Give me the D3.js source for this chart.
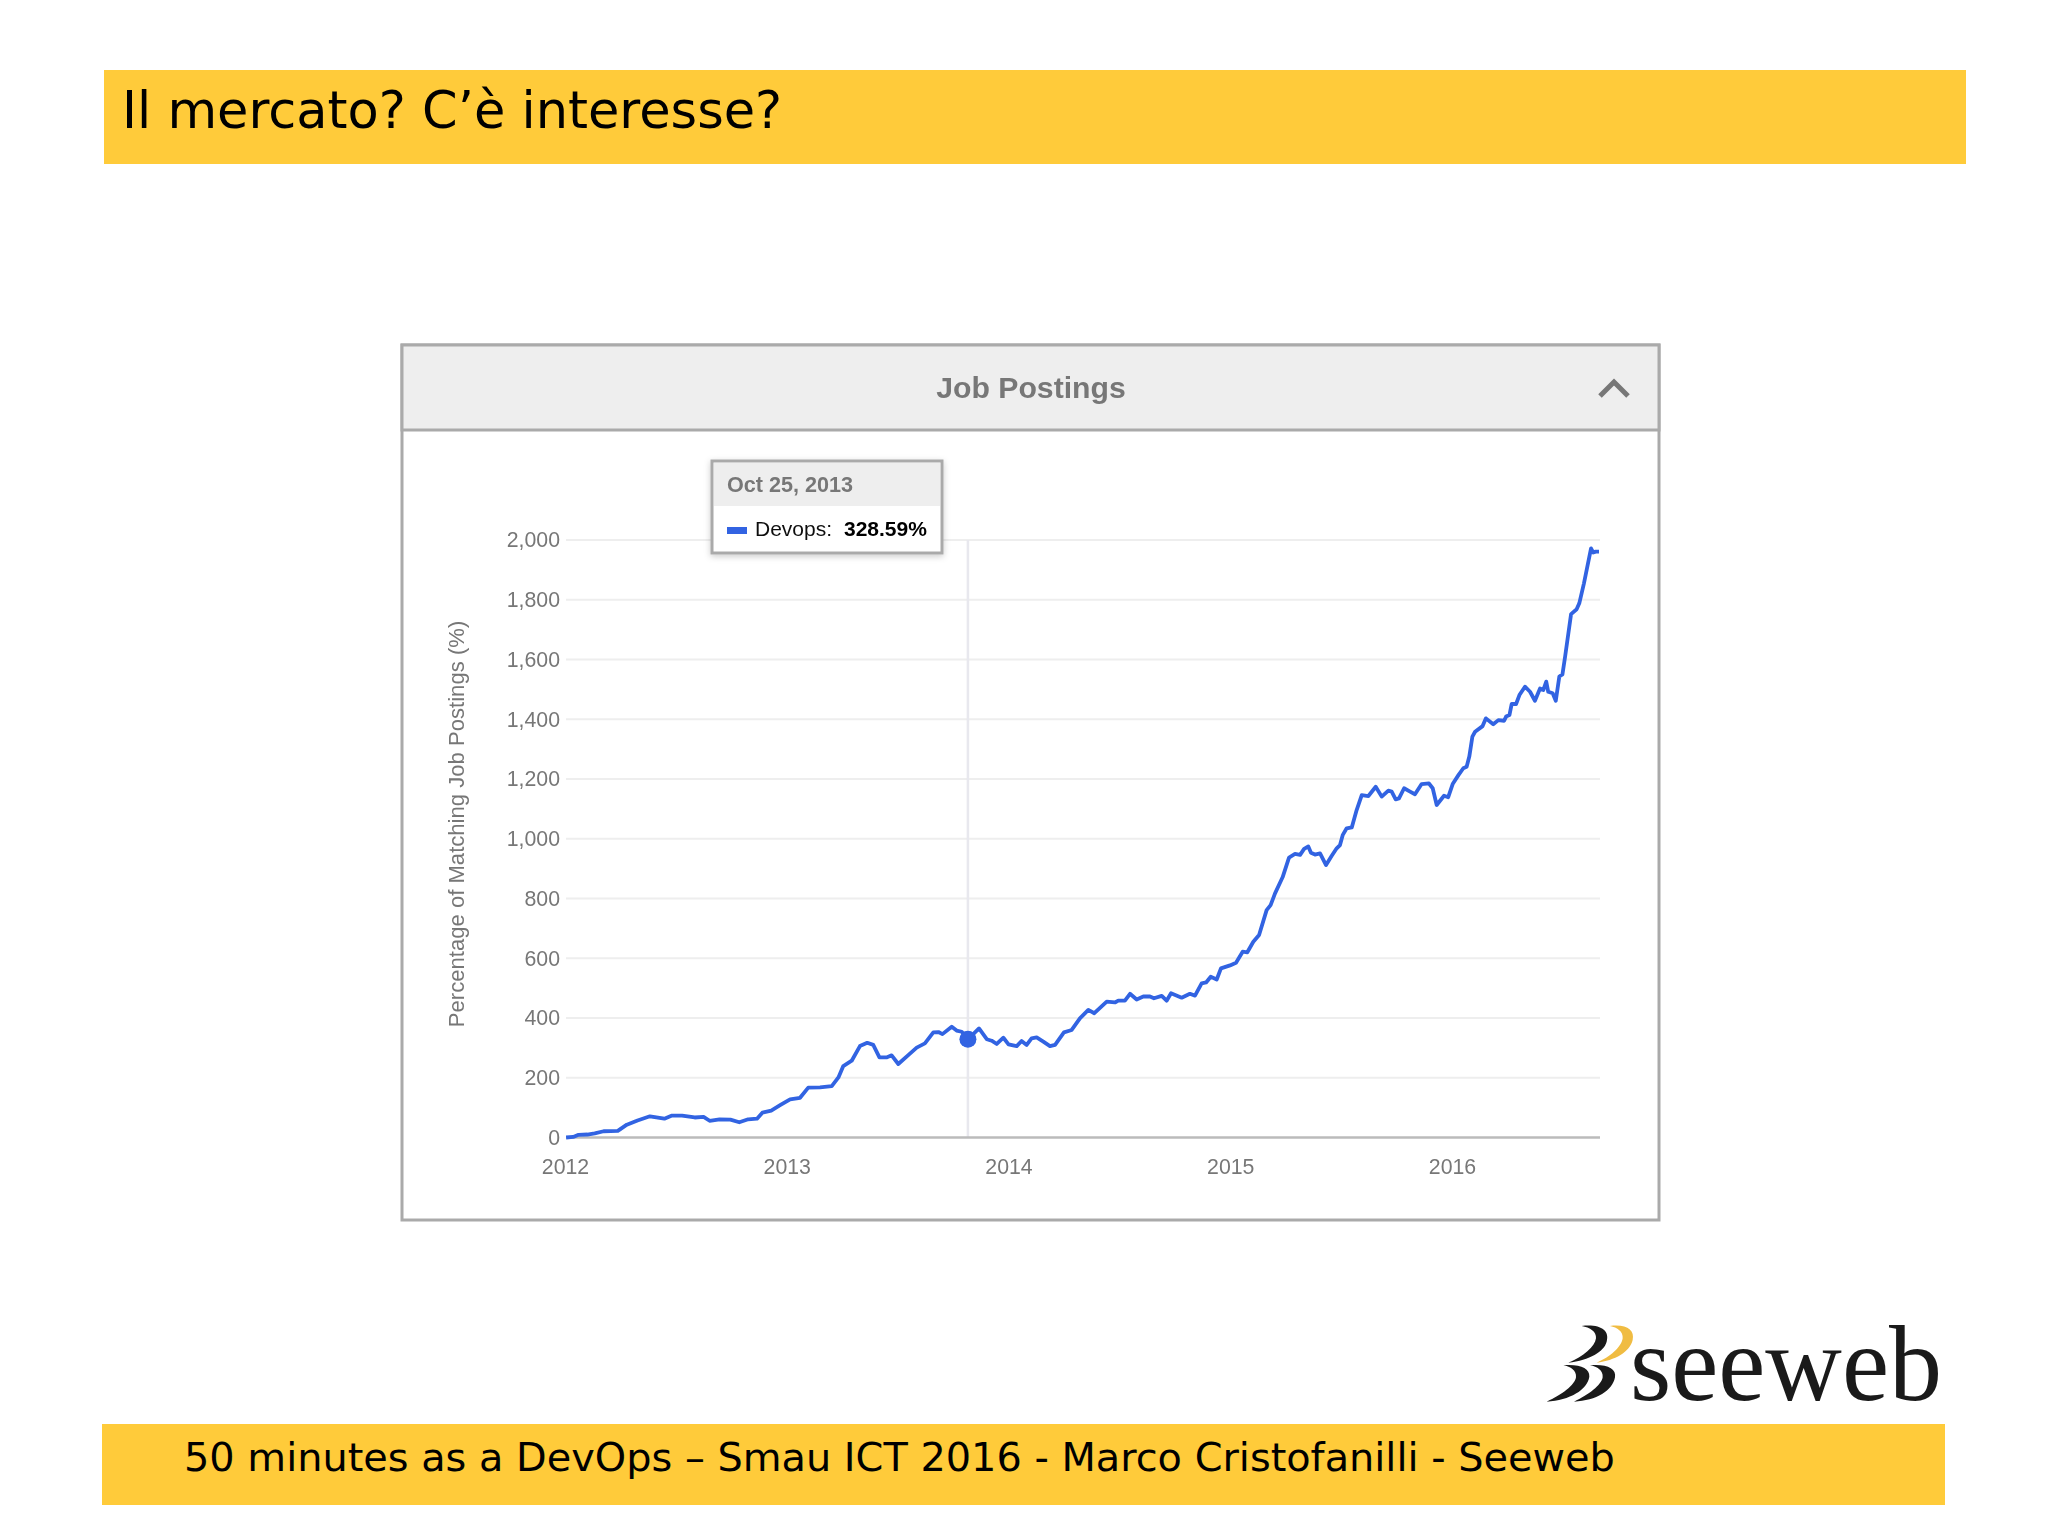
<!DOCTYPE html>
<html>
<head>
<meta charset="utf-8">
<script src="https://cdn.jsdelivr.net/npm/d3@7"></script>
<style>
  body { margin: 0; background: #fff; }
  svg { display: block; }
  .tick text { font-family: "Liberation Sans", Arial, sans-serif; font-size: 21.3px; fill: #777; }
</style>
</head>
<body>
<div id="chart"></div>
<script>
// Values (decimal year, percent)
const years = [
  2012.005, 2012.037, 2012.061, 2012.101, 2012.134, 2012.174, 2012.238, 2012.279, 2012.327, 2012.383,
  2012.448, 2012.48, 2012.528, 2012.585, 2012.625, 2012.652, 2012.697, 2012.746, 2012.786, 2012.826,
  2012.866, 2012.89, 2012.93, 2012.97, 2013.015, 2013.06, 2013.097, 2013.15, 2013.203, 2013.233,
  2013.255, 2013.293, 2013.33, 2013.363, 2013.39, 2013.418, 2013.45, 2013.473, 2013.503, 2013.548,
  2013.586, 2013.623, 2013.661, 2013.684, 2013.702, 2013.744, 2013.766, 2013.789, 2013.817, 2013.867,
  2013.902, 2013.924, 2013.947, 2013.977, 2014.0, 2014.037, 2014.059, 2014.082, 2014.104, 2014.127,
  2014.157, 2014.187, 2014.21, 2014.25, 2014.285, 2014.322, 2014.36, 2014.387, 2014.443, 2014.48,
  2014.495, 2014.525, 2014.548, 2014.578, 2014.608, 2014.638, 2014.656, 2014.691, 2014.713, 2014.733,
  2014.781, 2014.818, 2014.841, 2014.871, 2014.891, 2014.912, 2014.939, 2014.958, 2014.999, 2015.026,
  2015.056, 2015.077, 2015.104, 2015.13, 2015.164, 2015.182, 2015.202, 2015.236, 2015.265, 2015.292,
  2015.315, 2015.333, 2015.352, 2015.364, 2015.382, 2015.405, 2015.432, 2015.457, 2015.48, 2015.495,
  2015.507, 2015.525, 2015.548, 2015.57, 2015.593, 2015.623, 2015.656, 2015.683, 2015.713, 2015.728,
  2015.746, 2015.761, 2015.784, 2015.811, 2015.833, 2015.863, 2015.896, 2015.913, 2015.931, 2015.964,
  2015.983, 2016.003, 2016.029, 2016.051, 2016.066, 2016.078, 2016.092, 2016.104, 2016.138, 2016.153,
  2016.186, 2016.209, 2016.235, 2016.244, 2016.259, 2016.269, 2016.289, 2016.304, 2016.329, 2016.352,
  2016.374, 2016.397, 2016.412, 2016.425, 2016.434, 2016.454, 2016.468, 2016.484, 2016.498, 2016.51,
  2016.537, 2016.562, 2016.574, 2016.595, 2016.627, 2016.637, 2016.648, 2016.663
];
const devops = [
  0, 2, 9, 10, 14, 21, 22, 43, 57, 71,
  63, 73, 73, 67, 69, 56, 61, 60, 51, 61,
  63, 83, 90, 108, 128, 133, 167, 168, 172, 201,
  239, 257, 306, 317, 310, 268, 268, 275, 246, 276,
  301, 315, 352, 353, 346, 371, 358, 354, 328.59, 365,
  329, 324, 313, 334, 312, 306, 323, 310, 332, 335,
  321, 306, 310, 352, 360, 399, 427, 416, 455, 452,
  458, 458, 481, 462, 472, 472, 466, 474, 458, 483,
  468, 481, 475, 516, 519, 538, 529, 566, 576, 585,
  622, 620, 655, 678, 761, 778, 817, 871, 937, 949,
  946, 966, 974, 953, 947, 951, 912, 942, 968, 979,
  1012, 1035, 1038, 1096, 1146, 1143, 1174, 1141, 1161, 1158,
  1132, 1135, 1169, 1158, 1149, 1183, 1185, 1169, 1113, 1144,
  1139, 1183, 1213, 1236, 1241, 1275, 1342, 1358, 1377, 1403,
  1383, 1397, 1395, 1409, 1414, 1451, 1451, 1481, 1509, 1492,
  1462, 1503, 1498, 1526, 1492, 1487, 1462, 1543, 1550, 1609,
  1752, 1768, 1788, 1855, 1972, 1958, 1961, 1961
];
const yearTicks = [2012, 2013, 2014, 2015, 2016];
const valueTicks = [0, 200, 400, 600, 800, 1000, 1200, 1400, 1600, 1800, 2000];
const hoverYear = 2013.817;
const hoverValue = 328.59;

const width = 2048, height = 1536;
const lineColor = "#3064e2";
const yellow = "#ffcb3a";
const sans = "'DejaVu Sans', sans-serif";
const arial = "'Liberation Sans', Arial, sans-serif";

const svg = d3.select("#chart").append("svg")
  .attr("width", width)
  .attr("height", height);

const defs = svg.append("defs");
// the panel is a pasted screenshot in the slide, so it is slightly soft
defs.append("filter").attr("id", "soft")
  .attr("filterUnits", "userSpaceOnUse")
  .attr("x", 0).attr("y", 0).attr("width", width).attr("height", height)
  .append("feGaussianBlur").attr("stdDeviation", 0.55);
const blur = defs.append("filter").attr("id", "shadow").attr("x", "-10%").attr("y", "-10%").attr("width", "120%").attr("height", "130%");
blur.append("feDropShadow").attr("dx", 0).attr("dy", 2).attr("stdDeviation", 3).attr("flood-color", "#000").attr("flood-opacity", 0.2);

// slide bands
svg.append("rect").attr("x", 104).attr("y", 70).attr("width", 1862).attr("height", 94).attr("fill", yellow);
svg.append("rect").attr("x", 102).attr("y", 1424).attr("width", 1843).attr("height", 81).attr("fill", yellow);

svg.append("text").attr("x", 122).attr("y", 128)
  .attr("font-family", sans).attr("font-size", 51).attr("fill", "#000")
  .text("Il mercato? C’è interesse?");
svg.append("text").attr("x", 184).attr("y", 1471)
  .attr("font-family", sans).attr("font-size", 39.85).attr("fill", "#000")
  .text("50 minutes as a DevOps – Smau ICT 2016 - Marco Cristofanilli - Seeweb");

const panel = svg.append("g").attr("filter", "url(#soft)");

// panel
panel.append("rect").attr("x", 402).attr("y", 345).attr("width", 1257).attr("height", 875)
  .attr("fill", "#fff").attr("stroke", "#aaa").attr("stroke-width", 3);
panel.append("rect").attr("x", 402).attr("y", 345).attr("width", 1257).attr("height", 85)
  .attr("fill", "#eee").attr("stroke", "#aaa").attr("stroke-width", 3);
panel.append("text").attr("x", 1031).attr("y", 398)
  .attr("text-anchor", "middle").attr("font-family", arial).attr("font-weight", "bold")
  .attr("font-size", 30.2).attr("fill", "#777").text("Job Postings");
panel.append("path").attr("d", "M1600,396 L1614,382 L1628,396")
  .attr("fill", "none").attr("stroke", "#777").attr("stroke-width", 5);

// scales
const x = d3.scaleLinear().domain([2012, 2016]).range([565, 1452]);
const y = d3.scaleLinear().domain([0, 2000]).range([1137.5, 540]);

// gridlines
panel.append("g").selectAll("line")
  .data(valueTicks.filter(d => d > 0))
  .enter().append("line")
  .attr("x1", 566).attr("x2", 1600)
  .attr("y1", d => y(d)).attr("y2", d => y(d))
  .attr("stroke", "#eeeeee").attr("stroke-width", 2);

// crosshair behind the line
panel.append("line")
  .attr("x1", x(hoverYear)).attr("x2", x(hoverYear))
  .attr("y1", y(2000)).attr("y2", y(0))
  .attr("stroke", "#e8e8ee").attr("stroke-width", 2.5);

// baseline
panel.append("line").attr("x1", 566).attr("x2", 1600)
  .attr("y1", y(0)).attr("y2", y(0))
  .attr("stroke", "#bbb").attr("stroke-width", 2.5);

// axes
const yAxis = d3.axisLeft(y).tickValues(valueTicks).tickFormat(d3.format(",")).tickSize(0).tickPadding(5);
panel.append("g").attr("transform", "translate(565,0)").call(yAxis).call(g => g.select(".domain").remove());

const xAxis = d3.axisBottom(x).tickValues(yearTicks).tickFormat(d3.format("d")).tickSize(0).tickPadding(21);
panel.append("g").attr("transform", `translate(0,${y(0)})`).call(xAxis).call(g => g.select(".domain").remove());

panel.append("text")
  .attr("transform", "translate(464,824) rotate(-90)")
  .attr("text-anchor", "middle").attr("font-family", arial).attr("font-size", 22.1).attr("fill", "#777")
  .text("Percentage of Matching Job Postings (%)");

// series
const line = d3.line().x((d, i) => x(years[i])).y(d => y(d));
panel.append("path").datum(devops)
  .attr("d", line)
  .attr("fill", "none").attr("stroke", lineColor).attr("stroke-width", 3.8).attr("stroke-linejoin", "round");

panel.append("circle").attr("cx", x(hoverYear)).attr("cy", y(hoverValue)).attr("r", 8.5).attr("fill", lineColor);

// tooltip
const tip = panel.append("g");
tip.append("rect").attr("x", 712).attr("y", 461).attr("width", 230).attr("height", 92)
  .attr("fill", "#fff").attr("stroke", "#aaa").attr("stroke-width", 3).attr("filter", "url(#shadow)");
tip.append("rect").attr("x", 714).attr("y", 463).attr("width", 226).attr("height", 43).attr("fill", "#eee");
tip.append("text").attr("x", 727).attr("y", 492).attr("font-family", arial).attr("font-size", 21.6)
  .attr("font-weight", "bold").attr("fill", "#777").text("Oct 25, 2013");
tip.append("rect").attr("x", 727).attr("y", 527).attr("width", 20).attr("height", 7).attr("fill", lineColor);
tip.append("text").attr("x", 755).attr("y", 536).attr("font-family", arial).attr("font-size", 21)
  .attr("fill", "#111").text("Devops:");
tip.append("text").attr("x", 844).attr("y", 536).attr("font-family", arial).attr("font-size", 21)
  .attr("font-weight", "bold").attr("fill", "#000").text("328.59%");

// logo
const logo = svg.append("g").attr("transform", "translate(1500,1300) scale(0.3333)");
logo.append("path").attr("fill", "#1a1a1a")
  .attr("d", "M245,78 C300,72 330,90 320,125 C312,155 270,180 205,188 C250,170 285,140 288,115 C290,95 270,82 245,78Z");
logo.append("path").attr("fill", "#f0bc42")
  .attr("d", "M330,78 C380,72 405,90 398,120 C390,155 345,182 290,188 C330,172 365,140 368,115 C370,95 352,82 330,78Z");
logo.append("path").attr("fill", "#1a1a1a")
  .attr("d", "M190,196 C240,192 270,205 268,230 C262,270 210,300 140,305 C185,285 225,255 228,232 C230,212 212,200 190,196Z");
logo.append("path").attr("fill", "#1a1a1a")
  .attr("d", "M270,196 C320,192 350,205 345,232 C338,272 290,302 222,305 C265,285 305,255 308,232 C310,212 292,200 270,196Z");
svg.append("text").attr("x", 1630).attr("y", 1400)
  .attr("font-family", "'Liberation Serif', serif").attr("font-size", 107).attr("fill", "#1a1a1a")
  .attr("textLength", 312).attr("lengthAdjust", "spacingAndGlyphs")
  .text("seeweb");
</script>
</body>
</html>
